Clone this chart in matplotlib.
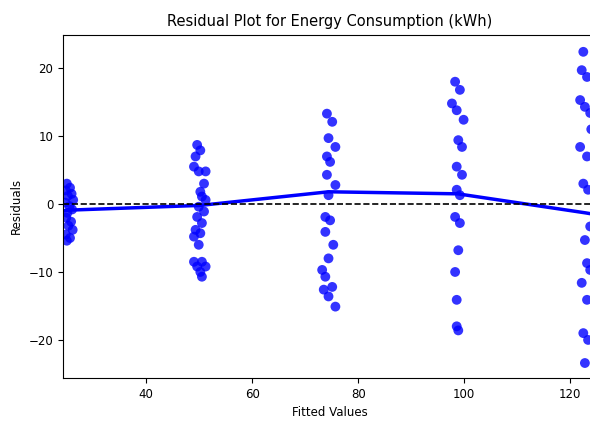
import matplotlib.pyplot as plt
import numpy as np

# fitted values and residuals, read per cluster
fit_1 = [25.0, 25.6, 24.8, 25.9, 25.2, 26.2, 24.7, 25.5, 26.0, 25.1, 24.9, 25.8, 25.3, 26.1, 24.8, 25.6, 25.0]
res_1 = [3.0, 2.4, 2.0, 1.5, 1.2, 0.6, 0.2, -0.3, -0.8, -1.3, -2.0, -2.6, -3.2, -3.8, -4.5, -5.0, -5.4]

fit_2 = [49.6, 50.2, 49.3, 49.0, 49.9, 51.2, 50.9, 50.2, 50.5, 51.2, 49.9, 50.9, 49.6, 50.5,
         49.3, 50.2, 49.0, 49.9, 49.0, 50.5, 49.6, 51.2, 50.2, 50.5]
res_2 = [8.7, 7.9, 7.0, 5.5, 4.8, 4.8, 3.0, 1.8, 1.1, 0.6, -0.4, -1.1, -1.9, -2.8,
         -3.8, -4.3, -4.8, -6.0, -8.5, -8.5, -9.2, -9.2, -10.0, -10.7]

fit_3 = [74.1, 75.1, 74.4, 75.7, 74.1, 74.7, 74.1, 75.7, 74.4, 73.8, 74.7, 73.8, 75.3, 74.4,
         73.2, 73.8, 75.1, 73.5, 74.4, 75.7]
res_3 = [13.3, 12.1, 9.7, 8.4, 7.0, 6.2, 4.3, 2.8, 1.3, -1.9, -2.4, -4.1, -6.0, -8.0,
         -9.7, -10.7, -12.2, -12.6, -13.6, -15.1]

fit_4 = [98.3, 99.2, 97.7, 98.6, 99.9, 98.9, 99.6, 98.6, 99.6, 98.6, 99.2, 98.3, 99.2, 98.9,
         98.3, 98.6, 98.6, 98.9]
res_4 = [18.0, 16.8, 14.8, 13.8, 12.4, 9.4, 8.4, 5.5, 4.3, 2.1, 1.3, -1.9, -2.8, -6.8,
         -10.0, -14.1, -18.0, -18.6]

fit_5 = [122.5, 122.2, 123.2, 121.9, 122.8, 123.8, 121.9, 123.2, 124.0, 122.5, 123.4, 123.8,
         122.8, 123.2, 123.8, 122.2, 123.2, 122.5, 123.4, 122.8]
res_5 = [22.4, 19.7, 18.7, 15.3, 14.3, 13.4, 8.4, 7.0, 11.0, 3.0, 2.1, -3.3, -5.3, -8.7,
         -9.7, -11.6, -14.1, -19.0, -20.0, -23.4]

# smoothed trend line through the residuals
trend_x = [24.3, 25.4, 50.2, 74.4, 98.8, 122.9, 125.2]
trend_y = [-1.0, -0.9, -0.2, 1.8, 1.5, -1.3, -1.6]

fitted = np.array(fit_1 + fit_2 + fit_3 + fit_4 + fit_5)
residuals = np.array(res_1 + res_2 + res_3 + res_4 + res_5)

fig = plt.figure(figsize=(5.9, 4.3), dpi=100)
ax = fig.add_axes([0.107, 0.121, 0.905, 0.798])

ax.scatter(fitted, residuals, color='blue', alpha=0.8, s=50, edgecolors='none')
ax.plot(trend_x, trend_y, color='blue', linewidth=2.5)
ax.axhline(0, color='black', linestyle='--', linewidth=1.2)

ax.set_xlim(24.3, 125.1)
ax.set_ylim(-25.6, 24.9)
ax.set_xticks([40, 60, 80, 100, 120])
ax.set_yticks([-20, -10, 0, 10, 20])
ax.tick_params(labelsize=8.5)

ax.set_title('Residual Plot for Energy Consumption (kWh)', fontsize=10.5)
ax.set_xlabel('Fitted Values', fontsize=8.5)
ax.set_ylabel('Residuals', fontsize=8.5)

plt.savefig('out.png', dpi=100)
